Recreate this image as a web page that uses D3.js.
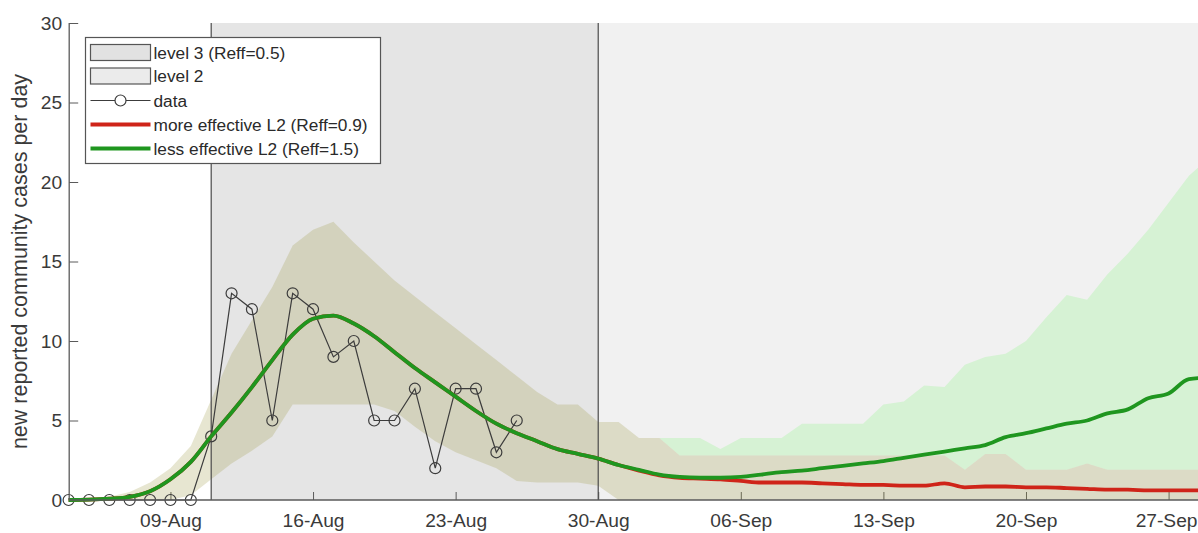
<!DOCTYPE html>
<html>
<head>
<meta charset="utf-8">
<script src="https://cdn.jsdelivr.net/npm/d3@7"></script>
<style>
  html, body { margin: 0; padding: 0; background: #fff; }
  svg { display: block; font-family: "Liberation Sans", Arial, Helvetica, sans-serif; }
</style>
</head>
<body>
<svg id="chart" width="1198" height="533"></svg>
<script>
// Daily model output starts on this day; one value per day.
const startDay = "2020-08-04";
const endDay = "2020-09-30";

// Alert level periods
const level3Start = "2020-08-11";
const level2Start = "2020-08-30";

// Reported community cases per day (from 4-Aug)
const reportedCases = [0, 0, 0, 0, 0, 0, 0, 4, 13, 12, 5, 13, 12, 9, 10, 5, 5, 7, 2, 7, 7, 3, 5];

// Model median, common to both scenarios up to 30-Aug (4-Aug .. 30-Aug)
const sharedMedian = [0, 0.02, 0.08, 0.2, 0.55, 1.3, 2.4, 4.0, 5.5, 7.1, 8.8, 10.4, 11.4, 11.6,
  11.1, 10.3, 9.3, 8.3, 7.4, 6.5, 5.6, 4.8, 4.2, 3.7, 3.2, 2.9, 2.6];

// Scenario medians from 31-Aug
const moreEffectiveMedian = [2.2, 1.85, 1.55, 1.4, 1.35, 1.3, 1.2, 1.1, 1.1, 1.1, 1.05, 1.0, 0.95, 0.95,
  0.9, 0.9, 1.05, 0.8, 0.85, 0.85, 0.8, 0.8, 0.75, 0.7, 0.65, 0.65, 0.6, 0.6, 0.6, 0.6];
const lessEffectiveMedian = [2.2, 1.9, 1.6, 1.45, 1.4, 1.4, 1.45, 1.6, 1.75, 1.85, 2.0, 2.15, 2.3, 2.45,
  2.65, 2.85, 3.05, 3.25, 3.45, 3.95, 4.2, 4.5, 4.8, 5.0, 5.45, 5.7, 6.4, 6.7, 7.6, 7.7];

// Uncertainty band, more effective L2 (shared before 30-Aug), 4-Aug .. 29-Sep
const moreEffectiveLower = [0, 0, 0, 0, 0, 0, 0.3, 1.3, 2.3, 3.1, 4.0, 6.0, 6.0, 6.0, 6.0, 6.0,
  5.6, 4.6, 3.7, 3.0, 2.5, 2.0, 1.2, 1.1, 1.1, 1.1, 0.9,
  0, 0, 0, 0, 0, 0, 0, 0, 0, 0, 0, 0, 0, 0, 0, 0, 0, 0, 0, 0, 0, 0, 0, 0, 0, 0, 0, 0, 0, 0];
const moreEffectiveUpper = [0, 0.05, 0.2, 0.5, 1.1, 2.0, 3.4, 6.3, 9.2, 11.3, 13.4, 16.0, 17.0, 17.5,
  16.2, 15.0, 13.8, 12.8, 11.8, 10.8, 9.8, 8.8, 7.8, 6.8, 6.0, 6.0, 4.9,
  4.9, 3.9, 3.9, 2.8, 2.8, 2.8, 2.8, 2.8, 2.8, 2.8, 2.8, 2.8, 2.8, 2.8, 2.8, 2.8, 2.8,
  1.9, 2.9, 2.9, 1.9, 1.9, 1.9, 2.3, 1.9, 1.9, 1.9, 1.9, 1.9, 1.9];

// Upper edge of the less effective L2 band, 30-Aug .. 29-Sep
const lessEffectiveUpper = [4.9, 4.9, 3.9, 3.9, 3.9, 3.9, 3.2, 3.9, 3.9, 3.9, 4.8, 4.8, 4.8, 4.8,
  6.0, 6.2, 7.2, 7.1, 8.5, 9.0, 9.2, 10.0, 11.5, 12.9, 12.6, 14.2, 15.5, 17.0, 18.7, 20.4, 21.5];

// Axis ticks
const yTicks = [0, 5, 10, 15, 20, 25, 30];
const xTickLabels = ["09-Aug", "16-Aug", "23-Aug", "30-Aug", "06-Sep", "13-Sep", "20-Sep", "27-Sep"];

const legendLabels = ["level 3 (Reff=0.5)", "level 2", "data",
  "more effective L2 (Reff=0.9)", "less effective L2 (Reff=1.5)"];

// ---------------------------------------------------------------------------
const parseISO = d3.utcParse("%Y-%m-%d");
const parseTick = s => d3.utcParse("%d-%b-%Y")(s + "-2020");
const t0 = parseISO(startDay);
const dayAt = i => d3.utcDay.offset(t0, i);

const svg = d3.select("#chart");
const W = 1198;

const x = d3.scaleUtc()
  .domain([t0, parseISO(endDay)])
  .range([68.6, 68.6 + 57 * 20.37]);
const y = d3.scaleLinear().domain([0, 30]).range([500, 23]);

const axisColor = "#5a5a5a";
const textColor = "#3a3a3a";

// Background shading for the two alert-level periods
const l3x = x(parseISO(level3Start));
const l2x = x(parseISO(level2Start));
svg.append("rect").attr("x", l3x).attr("y", y(30)).attr("width", l2x - l3x).attr("height", y(0) - y(30))
  .attr("fill", "#e5e5e5");
svg.append("rect").attr("x", l2x).attr("y", y(30)).attr("width", W - l2x).attr("height", y(0) - y(30))
  .attr("fill", "#f1f1f1");

// Axes (ticks point inward and sit beneath the plotted data)
const xAxis = d3.axisBottom(x)
  .tickValues(xTickLabels.map(parseTick))
  .tickFormat(d3.utcFormat("%d-%b"))
  .tickSizeInner(-8).tickSizeOuter(0).tickPadding(13);
const yAxis = d3.axisLeft(y)
  .tickValues(yTicks)
  .tickSizeInner(-9).tickSizeOuter(0).tickPadding(7);

const gx = svg.append("g").attr("transform", `translate(0,${y(0)})`).call(xAxis);
const gy = svg.append("g").attr("transform", `translate(${x(t0) + 0.6},0)`).call(yAxis);
[gx, gy].forEach(g => {
  g.select(".domain").remove();
  g.selectAll(".tick line").attr("stroke", axisColor);
  g.selectAll(".tick text").attr("fill", textColor).style("font-size", "19.2px");
});
// keep the last date label inside the drawing
gx.selectAll(".tick").each(function (d) {
  const txt = d3.select(this).select("text");
  const half = txt.node().getComputedTextLength() / 2;
  const over = x(d) + half - (W - 1);
  if (over > 0) txt.attr("dx", -over);
});

// Uncertainty bands
const bandArea = d3.area()
  .x(d => x(d.t)).y0(d => y(d.lo)).y1(d => y(d.hi))
  .curve(d3.curveLinear);

const splitIdx = reportedCases.length + 3; // index of 30-Aug
const lessBand = lessEffectiveUpper.map((v, i) => ({
  t: dayAt(splitIdx + i), lo: moreEffectiveUpper[splitIdx + i], hi: v
}));
svg.append("path").datum(lessBand).attr("d", bandArea).attr("fill", "#d6f2d4");

const moreBand = moreEffectiveUpper.map((v, i) => ({ t: dayAt(i), lo: moreEffectiveLower[i], hi: v }));
svg.append("path").datum(moreBand).attr("d", bandArea)
  .attr("fill", "rgb(158,154,70)").attr("fill-opacity", 0.25);

// Level change markers
[l3x, l2x].forEach(px => {
  svg.append("line").attr("x1", px).attr("x2", px).attr("y1", y(30)).attr("y2", y(0))
    .attr("stroke", "#4a4a4a").attr("stroke-width", 1.2);
});

// Reported data
const dataPts = reportedCases.map((v, i) => ({ t: dayAt(i), v }));
const lineGen = d3.line().x(d => x(d.t)).y(d => y(d.v));
svg.append("path").datum(dataPts).attr("d", lineGen)
  .attr("fill", "none").attr("stroke", "#3c3c3c").attr("stroke-width", 1.2);
svg.append("g").selectAll("circle").data(dataPts).join("circle")
  .attr("cx", d => x(d.t)).attr("cy", d => y(d.v)).attr("r", 5.5)
  .attr("fill", "none").attr("stroke", "#3c3c3c").attr("stroke-width", 1.2);

// Scenario medians
const smooth = d3.line().x(d => x(d.t)).y(d => y(d.v)).curve(d3.curveMonotoneX);
const series = arr => sharedMedian.concat(arr).map((v, i) => ({ t: dayAt(i), v }));
const redColor = "#cf2419";
const greenColor = "#1f961f";
svg.append("path").datum(series(moreEffectiveMedian)).attr("d", smooth)
  .attr("fill", "none").attr("stroke", redColor).attr("stroke-width", 3.8).attr("stroke-linejoin", "round");
svg.append("path").datum(series(lessEffectiveMedian)).attr("d", smooth)
  .attr("fill", "none").attr("stroke", greenColor).attr("stroke-width", 3.8).attr("stroke-linejoin", "round");

// Axis lines
svg.append("line").attr("x1", x(t0) + 0.6).attr("x2", W).attr("y1", y(0)).attr("y2", y(0))
  .attr("stroke", axisColor).attr("stroke-width", 1.3);
svg.append("line").attr("x1", x(t0) + 0.6).attr("x2", x(t0) + 0.6).attr("y1", y(30)).attr("y2", y(0))
  .attr("stroke", axisColor).attr("stroke-width", 1.3);

// Y-axis title
svg.append("text")
  .attr("transform", `translate(27,${(y(30) + y(0)) / 2}) rotate(-90)`)
  .attr("text-anchor", "middle").attr("fill", textColor)
  .style("font-size", "21.5px")
  .text("new reported community cases per day");

// Legend
const lg = svg.append("g").attr("transform", "translate(85.5,37.5)");
lg.append("rect").attr("width", 295).attr("height", 126).attr("fill", "#fff")
  .attr("stroke", "#555").attr("stroke-width", 1.2);
const rowY = [15, 38.5, 63, 87, 111];
const symX0 = 5, symX1 = 65, textX = 68;
// patches
[0, 1].forEach(i => {
  lg.append("rect").attr("x", symX0).attr("y", rowY[i] - 8).attr("width", symX1 - symX0).attr("height", 16)
    .attr("fill", i === 0 ? "#e2e2e2" : "#ebebeb").attr("stroke", "#555").attr("stroke-width", 1.2);
});
lg.append("line").attr("x1", symX0).attr("x2", symX1).attr("y1", rowY[2]).attr("y2", rowY[2])
  .attr("stroke", "#3c3c3c").attr("stroke-width", 1.2);
lg.append("circle").attr("cx", (symX0 + symX1) / 2).attr("cy", rowY[2]).attr("r", 5.5)
  .attr("fill", "#fff").attr("stroke", "#3c3c3c").attr("stroke-width", 1.2);
lg.append("line").attr("x1", symX0).attr("x2", symX1).attr("y1", rowY[3]).attr("y2", rowY[3])
  .attr("stroke", redColor).attr("stroke-width", 3.8);
lg.append("line").attr("x1", symX0).attr("x2", symX1).attr("y1", rowY[4]).attr("y2", rowY[4])
  .attr("stroke", greenColor).attr("stroke-width", 3.8);
legendLabels.forEach((s, i) => {
  lg.append("text").attr("x", textX).attr("y", rowY[i]).attr("dy", "0.35em")
    .attr("fill", "#2a2a2a").style("font-size", "17.3px").text(s);
});
</script>
</body>
</html>
